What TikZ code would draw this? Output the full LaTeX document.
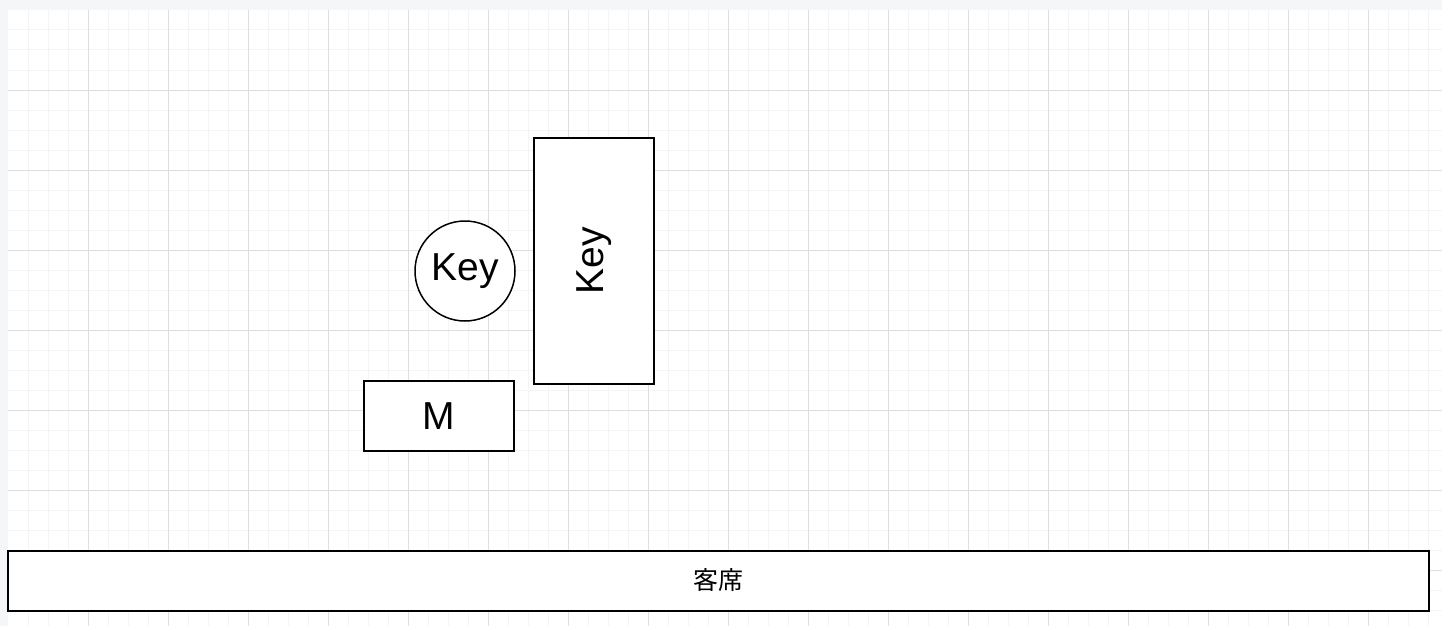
\documentclass[tikz,border=0pt]{standalone}
\usepackage{fontspec}
\setmainfont{Liberation Sans}
\newfontfamily\cjk{Noto Sans CJK JP}
\usetikzlibrary{positioning}
\definecolor{gridminor}{HTML}{F4F4F4}
\definecolor{gridmajor}{HTML}{DEDEDE}
\definecolor{canvasgray}{HTML}{F5F6F7}
\tikzset{
	pl_base/.style={font=\fontsize{39}{46}\selectfont, fill=white, draw=black, line width=2pt, inner sep=0pt},
	pl_block/.style={pl_base, rectangle, on grid, align=center},
	pl_round/.style={pl_base, circle, on grid, minimum size=100pt, line width=1.5pt},
	pl_seats/.style={pl_base, rectangle, font=\cjk\fontsize{25}{30}\selectfont, minimum width=1421pt, minimum height=60pt},
	pl_minor/.style={draw=gridminor, line width=1pt},
	pl_major/.style={draw=gridmajor, line width=1pt}
}
\begin{document}
\begin{tikzpicture}[x=1pt, y=-1pt]
	\useasboundingbox (0,0) rectangle (1442,626);
	\fill [canvasgray] (0,0) rectangle (1442,626);
	\fill [white] (8,10) rectangle (1442,626);
	% grid
	\foreach \x in {28,48,...,1440} \draw [pl_minor] (\x,10) -- (\x,626);
	\foreach \y in {30,50,...,626} \draw [pl_minor] (8,\y) -- (1442,\y);
	\foreach \x in {88,168,...,1440} \draw [pl_major] (\x,10) -- (\x,626);
	\foreach \y in {90,170,...,626} \draw [pl_major] (8,\y) -- (1442,\y);

	\node [pl_round] (keyround) at (465,271) {Key};
	\node [pl_block, minimum width=120pt, minimum height=246pt, above right = 10.5pt and 129pt of keyround] (keybox) {\rotatebox{90}{Key}};
	\node [pl_block, minimum width=150pt, minimum height=70pt, below left = 145pt and 26pt of keyround] (mbox) {M};

	\node [pl_seats] (seats) at (718.5,580.5) {客席};
\end{tikzpicture}
\end{document}
